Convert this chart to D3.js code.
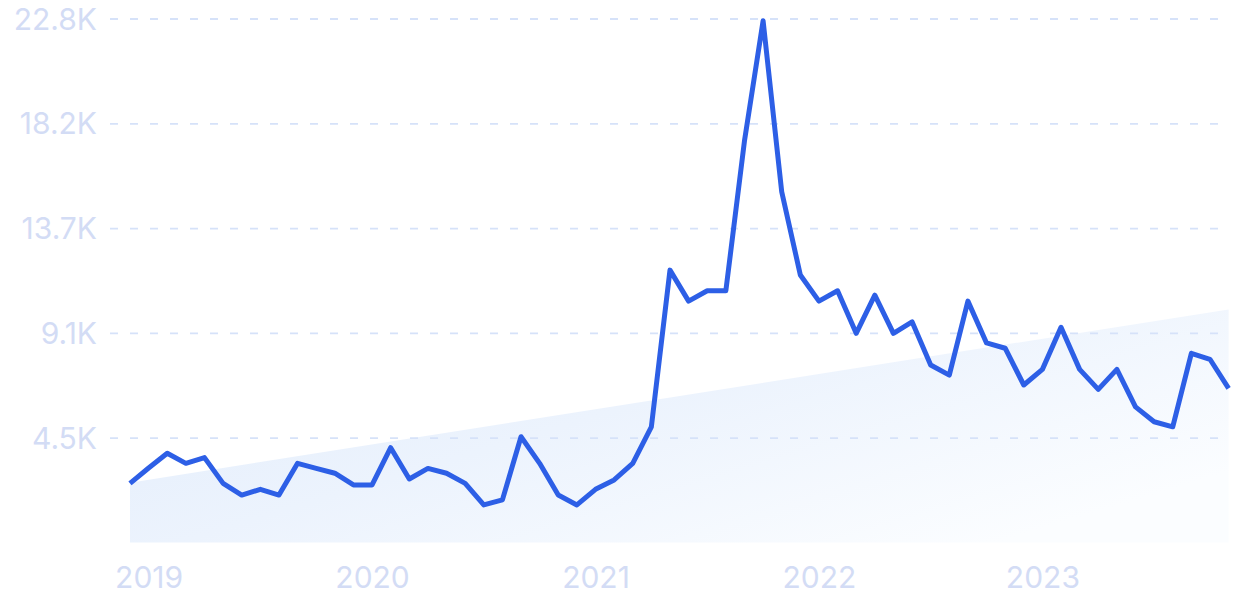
<!DOCTYPE html>
<html>
<head>
<meta charset="utf-8">
<script src="https://cdn.jsdelivr.net/npm/d3@7"></script>
<style>
  html, body { margin: 0; padding: 0; background: #ffffff; }
  svg { display: block; }
  text { font-family: Inter, "Noto Sans", sans-serif; }
</style>
</head>
<body>
<svg id="chart" width="1234" height="616"></svg>
<script>
// Monthly values, Dec 2018 .. Nov 2023
const months = [
  "2018-12",
  "2019-01","2019-02","2019-03","2019-04","2019-05","2019-06","2019-07","2019-08","2019-09","2019-10","2019-11","2019-12",
  "2020-01","2020-02","2020-03","2020-04","2020-05","2020-06","2020-07","2020-08","2020-09","2020-10","2020-11","2020-12",
  "2021-01","2021-02","2021-03","2021-04","2021-05","2021-06","2021-07","2021-08","2021-09","2021-10","2021-11","2021-12",
  "2022-01","2022-02","2022-03","2022-04","2022-05","2022-06","2022-07","2022-08","2022-09","2022-10","2022-11","2022-12",
  "2023-01","2023-02","2023-03","2023-04","2023-05","2023-06","2023-07","2023-08","2023-09","2023-10","2023-11"
];
const values = [
  2570,
  3240, 3880, 3440, 3690, 2570, 2060, 2310, 2060, 3440, 3220, 3010, 2500,
  2500, 4120, 2760, 3220, 3010, 2570, 1630, 1850, 4600, 3440, 2060, 1630,
  2310, 2720, 3440, 5030, 11850, 10500, 10950, 10950, 17470, 22700, 15260, 11640,
  10500, 10950, 9100, 10760, 9100, 9600, 7720, 7280, 10500, 8680, 8450, 6850,
  7530, 9360, 7530, 6660, 7530, 5900, 5250, 5030, 8230, 7970, 6700
];
// Trend band (start and end value)
const trendValues = [2600, 10140];

const yTickValues = [4560, 9120, 13680, 18240, 22800];
const yTickLabels = ["4.5K", "9.1K", "13.7K", "18.2K", "22.8K"];
const xTickMonths = ["2019-01", "2020-01", "2021-01", "2022-01", "2023-01"];
const xTickLabels = ["2019", "2020", "2021", "2022", "2023"];

const svg = d3.select("#chart");

const x = d3.scalePoint().domain(months).range([130, 1228.6]).padding(0);
const y = d3.scaleLinear().domain([0, 22800]).range([542.4, 18.5]);

// gradient
const defs = svg.append("defs");
const grad = defs.append("linearGradient")
  .attr("id", "trendGrad")
  .attr("x1", "0").attr("y1", "0")
  .attr("x2", "1").attr("y2", "0.7");
grad.append("stop").attr("offset", "0%").attr("stop-color", "#e1ecfb");
grad.append("stop").attr("offset", "50%").attr("stop-color", "#ecf3fd");
grad.append("stop").attr("offset", "100%").attr("stop-color", "#fbfdff");

// trend area
const trendData = [
  { m: months[0], v: trendValues[0] },
  { m: months[months.length - 1], v: trendValues[1] }
];
svg.append("path")
  .datum(trendData)
  .attr("fill", "url(#trendGrad)")
  .attr("d", d3.area()
    .x(d => x(d.m))
    .y0(y(0))
    .y1(d => y(d.v)));

// grid lines + y labels
const yAxis = d3.axisLeft(y)
  .tickValues(yTickValues)
  .tickSize(-1108)
  .tickFormat((d, i) => yTickLabels[i]);
const gy = svg.append("g")
  .attr("transform", "translate(110,0)")
  .call(yAxis);
gy.select(".domain").remove();
gy.selectAll(".tick line")
  .attr("stroke", "#d6e2f9")
  .attr("stroke-width", 1.8)
  .attr("stroke-dasharray", "8,12");
gy.selectAll(".tick text")
  .attr("x", -13)
  .attr("dy", "0.35em")
  .attr("fill", "#d3dcf5")
  .style("font-size", "30px")
  .style("font-weight", 400);

// x labels
const xAxis = d3.axisBottom(x)
  .tickValues(xTickMonths)
  .tickSize(0)
  .tickFormat((d, i) => xTickLabels[i]);
const gx = svg.append("g")
  .attr("transform", "translate(0,557)")
  .call(xAxis);
gx.select(".domain").remove();
gx.selectAll(".tick text")
  .attr("y", 10)
  .attr("dy", "0.71em")
  .attr("fill", "#d3dcf5")
  .style("font-size", "30px")
  .style("font-weight", 400);

// main line
svg.append("path")
  .datum(values)
  .attr("fill", "none")
  .attr("stroke", "#2d5fe6")
  .attr("stroke-width", 5)
  .attr("stroke-linejoin", "round")
  .attr("stroke-linecap", "butt")
  .attr("d", d3.line()
    .x((d, i) => x(months[i]))
    .y(d => y(d)));
</script>
</body>
</html>
